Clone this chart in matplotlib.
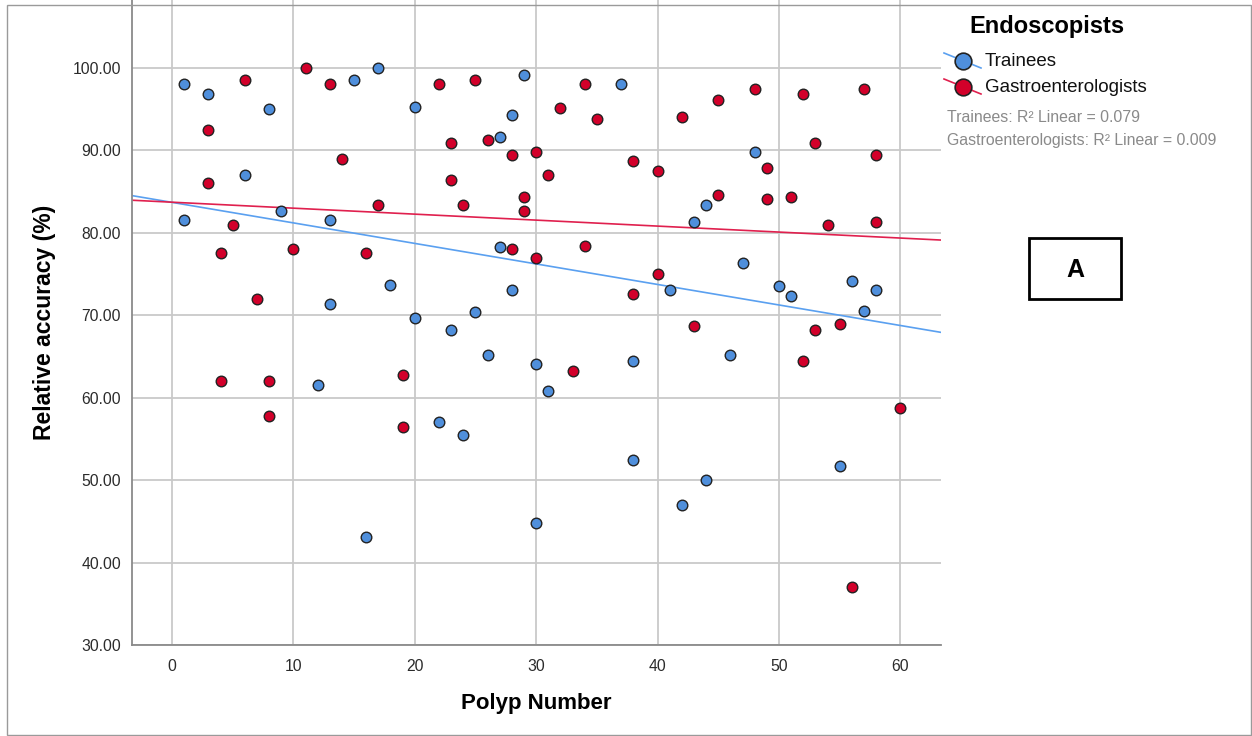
import numpy as np
import matplotlib
matplotlib.use('Agg')
import matplotlib.pyplot as plt
from matplotlib.lines import Line2D
from matplotlib.patches import Rectangle

plt.rcParams['font.family'] = ['Liberation Sans', 'DejaVu Sans']

# Trainees: polyp number / relative accuracy (%)
trainee_x = [1, 3, 6, 8, 1, 9, 13, 13, 12, 15, 17, 16, 18, 20, 20, 22, 24, 23, 25, 26,
             27, 27, 28, 28, 29, 30, 30, 31, 37, 38, 38, 41, 42, 43, 44, 44, 46, 47, 48,
             50, 51, 55, 56, 57, 58]
trainee_y = [98.0, 96.8, 87.0, 95.0, 81.6, 82.6, 81.6, 71.4, 61.5, 98.5, 100.0, 43.1, 73.7,
             95.3, 69.7, 57.1, 55.5, 68.2, 70.4, 65.2, 91.6, 78.3, 94.3, 73.1, 99.2, 64.1,
             44.8, 60.8, 98.0, 64.5, 52.4, 73.1, 47.0, 81.3, 83.4, 50.0, 65.2, 76.3, 89.8,
             73.5, 72.3, 51.7, 74.1, 70.5, 73.1]

# Gastroenterologists
gastro_x = [3, 3, 4, 4, 5, 6, 7, 8, 8, 10, 11, 13, 14, 16, 17, 19, 19, 22, 23, 23, 24, 25,
            26, 28, 28, 29, 29, 30, 30, 31, 32, 33, 34, 34, 35, 38, 38, 40, 40, 42, 43, 45,
            45, 48, 49, 49, 51, 52, 52, 53, 53, 54, 55, 56, 57, 58, 58, 60]
gastro_y = [92.5, 86.0, 77.6, 62.0, 81.0, 98.5, 72.0, 62.0, 57.8, 78.0, 100.0, 98.0, 88.9,
            77.6, 83.4, 62.7, 56.4, 98.0, 90.9, 86.4, 83.4, 98.6, 91.3, 89.4, 78.0, 84.3,
            82.6, 89.8, 76.9, 87.0, 95.2, 63.3, 98.1, 78.4, 93.8, 88.7, 72.6, 87.5, 75.0,
            94.1, 68.7, 96.1, 84.6, 97.4, 87.9, 84.1, 84.4, 96.8, 64.5, 90.9, 68.2, 80.9,
            68.9, 37.0, 97.4, 89.4, 81.3, 58.8]

# linear fit lines as drawn in the chart (intercept, slope)
trainee_fit = [83.7, -0.249]
gastro_fit = [83.72, -0.0725]

groups = ['Trainees', 'Gastroenterologists']
r2_labels = ['Trainees: R\u00b2 Linear = 0.079', 'Gastroenterologists: R\u00b2 Linear = 0.009']
y_ticks = [30, 40, 50, 60, 70, 80, 90, 100]
x_ticks = [0, 10, 20, 30, 40, 50, 60]

blue = '#4f8fdc'
red = '#d2002a'
blue_line = '#5aa0f0'
red_line = '#e0204e'

W, H = 1252, 736
fig = plt.figure(figsize=(W / 100, H / 100), dpi=100)
ax = fig.add_axes([132 / W, 1 - 645 / H, (941 - 132) / W, 645 / H])

xlim = (-3.29, 63.34)
ax.set_xlim(*xlim)
ax.set_ylim(30, 108.25)

ax.set_xticks(x_ticks)
ax.set_yticks(y_ticks)
ax.set_yticklabels([f'{v:.2f}' for v in y_ticks])
ax.tick_params(length=0, labelsize=11.3, labelcolor='#2b2b2b')
ax.tick_params(axis='y', pad=8)
ax.tick_params(axis='x', pad=10)
ax.grid(True, color='#c9c9c9', lw=1.3)
ax.set_axisbelow(True)
for s in ['top', 'right']:
    ax.spines[s].set_visible(False)
for s in ['left', 'bottom']:
    ax.spines[s].set_color('#8a8a8a')
    ax.spines[s].set_linewidth(1.3)

# scatter points
ax.scatter(trainee_x, trainee_y, s=58, color=blue, edgecolor='#222222', linewidth=1.0, zorder=3)
ax.scatter(gastro_x, gastro_y, s=58, color=red, edgecolor='#222222', linewidth=1.0, zorder=3)

# fit lines
xx = np.array(xlim)
for (a, b), c in [(trainee_fit, blue_line), (gastro_fit, red_line)]:
    ax.plot(xx, a + b * xx, color=c, lw=1.2, zorder=2)

ax.set_xlabel('Polyp Number', fontsize=16, fontweight='bold', labelpad=14)
ax.set_ylabel('Relative accuracy (%)', fontsize=16.5, fontweight='bold', labelpad=12)

# legend drawn by hand in pixel positions
def fx(px):
    return px / W

def fy(py):
    return 1 - py / H

fig.text(fx(1047), fy(27), 'Endoscopists', fontsize=17, fontweight='bold', ha='center', va='center')
for name, fc, lc, py in [(groups[0], blue, blue_line, 61), (groups[1], red, red_line, 87)]:
    fig.add_artist(Line2D([fx(944), fx(981)], [fy(py - 8), fy(py + 7)], color=lc, lw=1.2,
                          transform=fig.transFigure))
    fig.add_artist(Line2D([fx(963)], [fy(py)], marker='o', markersize=12, markerfacecolor=fc,
                          markeredgecolor='#222222', markeredgewidth=1.2, transform=fig.transFigure))
    fig.text(fx(985), fy(py + 1), name, fontsize=13.5, ha='left', va='center', color='#111111')

fig.text(fx(947), fy(118), r2_labels[0], fontsize=11.4, color='#8a8a8a', ha='left', va='center')
fig.text(fx(947), fy(140), r2_labels[1], fontsize=11.4, color='#8a8a8a', ha='left', va='center')

# panel label box
fig.add_artist(Rectangle((fx(1029), fy(299)), (1121 - 1029) / W, (299 - 238) / H,
                         transform=fig.transFigure, fill=False, ec='black', lw=2))
fig.text(fx(1075), fy(270), 'A', fontsize=18, fontweight='bold', ha='center', va='center')

# outer frame
fig.add_artist(Rectangle((fx(6.5), fy(735)), (1251 - 6.5) / W, (735 - 4.5) / H,
                         transform=fig.transFigure, fill=False, ec='#9a9a9a', lw=1))

fig.savefig('out.png', dpi=100)
